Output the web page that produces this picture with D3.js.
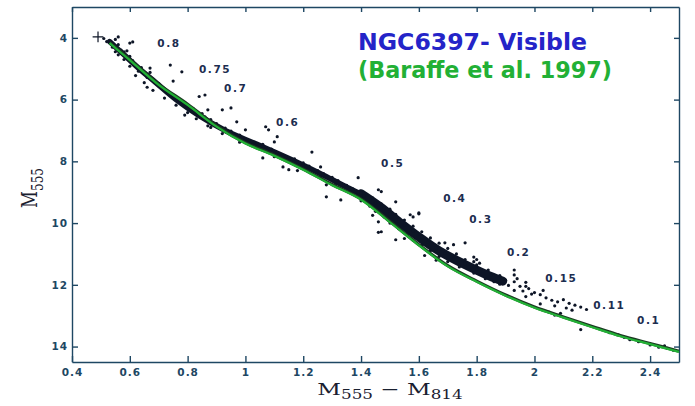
<!DOCTYPE html>
<html>
<head>
<meta charset="utf-8">
<script src="https://cdn.jsdelivr.net/npm/d3@7"></script>
<style>
  body { margin: 0; background: #fff; }
  .axis text { font-family: "DejaVu Sans", sans-serif; font-weight: bold; font-size: 10.5px; letter-spacing: 1px; fill: #1e4763; }
  .axis path, .axis line { stroke: #1e4763; stroke-width: 1.4; }
  .mass { font-family: "DejaVu Sans", sans-serif; font-weight: bold; font-size: 10.5px; letter-spacing: 1.6px; fill: #1c2d50; }
</style>
</head>
<body>
<div id="chart-area"></div>
<script>
// SVG Size
var width = 695,
	height = 406;

// axis ticks
var xTicks = [0.4, 0.6, 0.8, 1, 1.2, 1.4, 1.6, 1.8, 2, 2.2, 2.4];
var yTicks = [4, 6, 8, 10, 12, 14];

// Baraffe et al. 1997 isochrone (color, magnitude)
var modelColor = [0.53, 0.6, 0.7, 0.8, 0.9, 1.0, 1.1, 1.2, 1.3, 1.4, 1.5, 1.6, 1.7, 1.8, 1.9, 2.0, 2.1, 2.2, 2.3, 2.4, 2.5];
var modelMag   = [4.15, 4.7, 5.5, 6.15, 6.85, 7.4, 7.8, 8.25, 8.75, 9.22, 9.95, 10.7, 11.38, 11.88, 12.33, 12.72, 13.04, 13.35, 13.65, 13.9, 14.15];

// dense ridge of the main sequence
var ridgeUpperColor = [0.53, 0.58, 0.63, 0.69, 0.76, 0.84, 0.93, 1.04, 1.16, 1.27, 1.36, 1.42];
var ridgeUpperMag   = [4.12, 4.55, 4.98, 5.45, 6.0, 6.52, 7.0, 7.45, 7.95, 8.45, 8.88, 9.15];
var ridgeLowerColor = [1.40, 1.47, 1.53, 1.60, 1.67, 1.75, 1.83, 1.89];
var ridgeLowerMag   = [9.05, 9.5, 9.95, 10.45, 10.9, 11.3, 11.65, 11.88];

// individual stars [M555-M814, M555]
var stars = [
	[0.51,4.02],[0.52,4.12],[0.55,4.05],[0.56,4.22],[0.54,4.30],[0.57,4.40],[0.59,4.42],[0.56,4.55],[0.60,4.60],[0.58,4.70],
	[0.61,4.74],[0.62,4.85],[0.60,4.92],[0.64,4.96],[0.63,5.08],[0.65,5.15],[0.62,5.22],[0.66,5.28],[0.68,5.36],[0.65,5.45],
	[0.70,5.48],[0.71,5.62],[0.68,5.70],[0.73,5.76],[0.75,5.85],[0.72,5.95],[0.77,6.02],[0.78,6.12],[0.76,6.18],[0.80,6.22],
	[0.82,6.30],[0.80,6.42],[0.85,6.45],[0.86,6.56],[0.83,6.62],[0.88,6.65],[0.90,6.78],[0.88,6.90],[0.93,6.92],[0.95,7.02],
	[0.92,7.10],[0.98,7.15],[1.00,7.28],[0.98,7.38],[1.03,7.38],[1.06,7.45],[1.05,7.58],[1.09,7.60],[1.11,7.72],[1.10,7.85],
	[1.14,7.85],[1.17,7.92],[1.16,8.05],[1.20,8.05],[1.22,8.15],[1.21,8.28],[1.25,8.30],[1.27,8.40],[1.26,8.52],[1.30,8.52],
	[1.32,8.62],[1.31,8.75],[1.35,8.78],[1.37,8.88],[1.36,9.00],[1.40,9.02],
	[1.41,9.12],[1.44,9.18],[1.40,9.28],[1.45,9.35],[1.47,9.38],[1.43,9.45],[1.48,9.50],[1.50,9.55],[1.45,9.62],[1.50,9.70],
	[1.52,9.72],[1.48,9.80],[1.53,9.88],[1.55,9.90],[1.50,10.00],[1.55,10.05],[1.58,10.10],[1.53,10.18],[1.58,10.25],[1.61,10.28],
	[1.56,10.36],[1.61,10.45],[1.64,10.48],[1.58,10.55],[1.63,10.62],[1.67,10.65],[1.61,10.72],[1.66,10.80],[1.70,10.82],[1.64,10.90],
	[1.69,10.98],[1.73,11.00],[1.67,11.08],[1.72,11.15],[1.76,11.18],[1.70,11.25],[1.76,11.32],[1.80,11.35],[1.74,11.42],[1.80,11.50],
	[1.84,11.52],[1.79,11.62],[1.85,11.68],[1.88,11.70],[1.83,11.80],[1.90,11.85],[1.93,11.90],[1.88,11.98],[1.95,12.05],[1.98,12.12],
	[1.93,12.18],[2.00,12.25],[2.02,12.32],[1.97,12.38],[2.04,12.42],[2.06,12.50],[1.91,12.02],[1.96,12.20],[1.99,12.30],[1.86,11.90],
	[1.93,11.52],[1.93,11.68],[1.94,11.80],[1.97,11.92],[1.97,12.05],[2.03,12.18],[2.08,12.55],[2.10,12.48],[2.12,12.60],[2.07,12.68],
	[2.14,12.66],[2.16,12.72],[2.18,12.80],[2.13,12.82],[2.05,12.88],[2.09,12.92],[2.11,12.75],[2.02,12.62],[2.07,12.98],[2.16,13.45],
	[2.26,13.55],[2.29,13.62],[2.31,13.70],[2.33,13.78],[2.36,13.84],[2.40,13.95],[2.43,14.02],[2.46,14.06],[2.48,14.12],[2.45,13.98],
	[0.56,3.97],[0.61,4.13],[0.60,4.17],[0.74,4.88],[0.78,5.10],[0.67,4.98],[0.67,5.12],[0.75,5.40],[0.84,5.90],[0.86,5.85],
	[0.87,6.33],[0.92,6.33],[0.95,6.27],[1.00,6.98],[1.07,6.88],[1.08,6.98],[1.11,7.20],[1.10,7.37],[1.13,8.18],[1.15,8.27],
	[1.06,7.89],[1.23,7.70],[1.26,8.18],[0.87,6.85],[0.97,6.72],[1.28,8.76],[1.28,9.15],[1.33,9.25],[1.39,8.53],[1.46,8.92],
	[1.47,8.98],[1.52,9.31],[1.60,9.67],[1.58,9.80],[1.46,9.96],[1.47,10.28],[1.52,10.54],[1.69,10.64],[1.72,10.70],[1.76,10.64],
	[1.79,11.10],[1.80,11.18],[1.46,10.30],[1.57,9.73],[1.60,9.70],[1.79,11.25],[1.81,11.30],[0.58,4.45],[0.55,4.45],[0.66,5.60],
	[0.79,6.50],[1.18,8.30],[1.44,9.75],[1.55,10.50],[1.66,11.20],[1.62,11.05]
];

// stellar mass labels, placed at (color, magnitude)
var massLabels = ["0.8", "0.75", "0.7", "0.6", "0.5", "0.4", "0.3", "0.2", "0.15", "0.11", "0.1"];
var massColor  = [0.695, 0.839, 0.926, 1.106, 1.469, 1.684, 1.774, 1.905, 2.037, 2.203, 2.355];
var massMag    = [4.29, 5.14, 5.75, 6.85, 8.18, 9.31, 9.99, 11.06, 11.9, 12.77, 13.26];

var svg = d3.select("#chart-area")
		.append("svg")
		.attr("width", width)
		.attr("height", height)
		.style("font-family", "DejaVu Sans, sans-serif");

var xScale = d3.scaleLinear().domain([0.4, 2.5]).range([72, 679]);
var yScale = d3.scaleLinear().domain([3, 14.5]).range([7, 362]);

// axes: ticks point inward on all four sides
svg.append("g").attr("class", "axis")
		.attr("transform", "translate(0," + yScale(14.5) + ")")
		.call(d3.axisBottom(xScale).tickValues(xTicks).tickFormat(function(d){ return d; })
			.tickSizeInner(-6).tickSizeOuter(0).tickPadding(7));
svg.append("g").attr("class", "axis")
		.attr("transform", "translate(0," + yScale(3) + ")")
		.call(d3.axisTop(xScale).tickValues(xTicks).tickFormat("").tickSizeInner(-5).tickSizeOuter(0));
svg.append("g").attr("class", "axis")
		.attr("transform", "translate(" + xScale(0.4) + ",0)")
		.call(d3.axisLeft(yScale).tickValues(yTicks).tickFormat(function(d){ return d; })
			.tickSizeInner(-6).tickSizeOuter(0).tickPadding(4));
svg.append("g").attr("class", "axis")
		.attr("transform", "translate(" + xScale(2.5) + ",0)")
		.call(d3.axisRight(yScale).tickValues(yTicks).tickFormat("").tickSizeInner(-5).tickSizeOuter(0));

var line = d3.line()
		.x(function(d){ return xScale(d[0]); })
		.y(function(d){ return yScale(d[1]); })
		.curve(d3.curveCatmullRom);

// dense ridge
svg.append("path")
		.datum(d3.zip(ridgeUpperColor, ridgeUpperMag))
		.attr("d", line)
		.attr("fill", "none")
		.attr("stroke", "#0d1526")
		.attr("stroke-width", 5.5)
		.attr("stroke-linecap", "round");
svg.append("path")
		.datum(d3.zip(ridgeLowerColor, ridgeLowerMag))
		.attr("d", line)
		.attr("fill", "none")
		.attr("stroke", "#0d1526")
		.attr("stroke-width", 9)
		.attr("stroke-linecap", "round");

svg.selectAll("circle.star")
		.data(stars)
		.enter()
		.append("circle")
		.attr("class", "star")
		.attr("cx", function(d){ return xScale(d[0]); })
		.attr("cy", function(d){ return yScale(d[1]); })
		.attr("r", 1.6)
		.attr("fill", "#0d1526");

// first point marker
svg.append("path")
		.attr("d", d3.symbol(d3.symbolPlus, 40)())
		.attr("transform", "translate(" + xScale(0.49) + "," + yScale(3.97) + ")")
		.attr("fill", "none")
		.attr("stroke", "#0d1526")
		.attr("stroke-width", 1.2);

// model isochrone: dark edge under the green line
svg.append("path")
		.datum(d3.zip(modelColor, modelMag))
		.attr("d", line)
		.attr("fill", "none")
		.attr("stroke", "#1b3a22")
		.attr("stroke-width", 3.2);
svg.append("path")
		.datum(d3.zip(modelColor, modelMag))
		.attr("d", line)
		.attr("transform", "translate(0,0.7)")
		.attr("fill", "none")
		.attr("stroke", "#22b035")
		.attr("stroke-width", 2.2);

svg.selectAll("text.mass")
		.data(massLabels)
		.enter()
		.append("text")
		.attr("class", "mass")
		.attr("x", function(d, i){ return xScale(massColor[i]); })
		.attr("y", function(d, i){ return yScale(massMag[i]); })
		.text(function(d){ return d; });

// title
svg.append("text")
		.attr("x", 358).attr("y", 50)
		.attr("font-size", 23.5).attr("font-weight", "bold")
		.attr("fill", "#2424c8")
		.attr("textLength", 229).attr("lengthAdjust", "spacingAndGlyphs")
		.text("NGC6397- Visible");
svg.append("text")
		.attr("x", 358).attr("y", 78)
		.attr("font-size", 23.5).attr("font-weight", "bold")
		.attr("fill", "#22b035")
		.attr("textLength", 254).attr("lengthAdjust", "spacingAndGlyphs")
		.text("(Baraffe et al. 1997)");

// axis names (serif, stretched like the scan)
var xName = svg.append("text")
		.attr("transform", "translate(390,395) scale(1.4,1)")
		.attr("text-anchor", "middle")
		.style("font-family", "DejaVu Serif, serif")
		.attr("font-size", 16.5)
		.attr("fill", "#1a2030");
xName.append("tspan").text("M");
xName.append("tspan").attr("font-size", 12).attr("dy", 4).text("555");
xName.append("tspan").attr("dy", -4).text(" \u2212 M");
xName.append("tspan").attr("font-size", 12).attr("dy", 4).text("814");

var yName = svg.append("text")
		.attr("transform", "translate(37,188) scale(1.4,1) rotate(-90)")
		.attr("text-anchor", "middle")
		.style("font-family", "DejaVu Serif, serif")
		.attr("font-size", 16.5)
		.attr("fill", "#1a2030");
yName.append("tspan").text("M");
yName.append("tspan").attr("font-size", 12).attr("dy", 4).text("555");
</script>
</body>
</html>
